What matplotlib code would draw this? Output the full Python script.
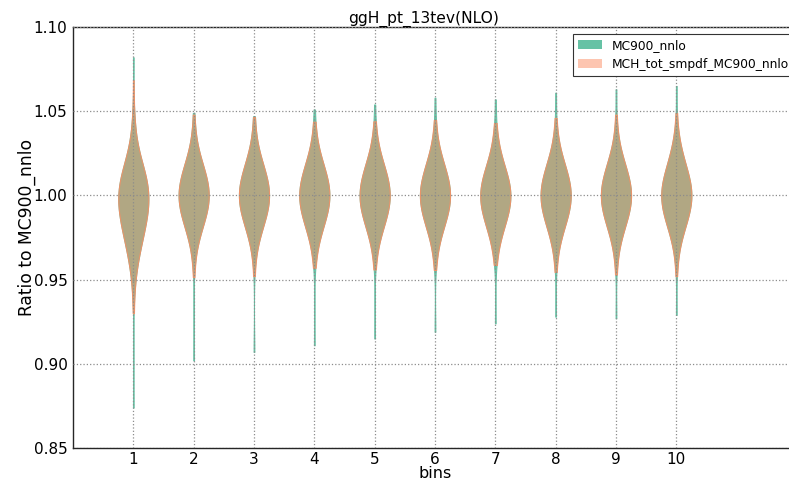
import numpy as np
import matplotlib
matplotlib.use('Agg')
import matplotlib.pyplot as plt
import matplotlib.patches as mpatches

# ratio grid (bin centres) and replica counts per bin
grid = [0.93, 0.94, 0.95, 0.96, 0.97, 0.98, 0.99, 1.00, 1.01, 1.02, 1.03, 1.04, 1.05, 1.06]
bins = [1, 2, 3, 4, 5, 6, 7, 8, 9, 10]

mc900_counts = [
    [0, 1, 2, 5, 9, 14, 18, 20, 17, 10, 4, 2, 1, 0],
    [0, 0, 0, 1, 3, 9, 16, 20, 16, 9, 3, 1, 0, 0],
    [0, 0, 0, 1, 3, 9, 16, 20, 16, 9, 3, 1, 0, 0],
    [0, 0, 0, 1, 3, 9, 16, 20, 16, 9, 3, 1, 0, 0],
    [0, 0, 0, 1, 3, 9, 16, 20, 16, 9, 3, 1, 0, 0],
    [0, 0, 0, 1, 3, 9, 16, 20, 16, 9, 3, 1, 0, 0],
    [0, 0, 0, 1, 3, 9, 16, 20, 16, 8, 3, 1, 0, 0],
    [0, 0, 0, 1, 3, 9, 16, 20, 16, 9, 3, 1, 0, 0],
    [0, 0, 0, 1, 3, 9, 16, 20, 16, 9, 3, 1, 0, 0],
    [0, 0, 0, 1, 3, 9, 16, 20, 16, 9, 4, 1, 0, 0],
]
mc900_lo = [0.874, 0.902, 0.907, 0.911, 0.915, 0.919, 0.924, 0.928, 0.927, 0.929]
mc900_hi = [1.082, 1.049, 1.047, 1.051, 1.054, 1.058, 1.057, 1.061, 1.063, 1.065]

smpdf_counts = [
    [0, 1, 2, 5, 9, 14, 18, 20, 17, 10, 4, 2, 1, 0],
    [0, 0, 0, 1, 3, 9, 16, 20, 16, 9, 3, 1, 0, 0],
    [0, 0, 0, 1, 3, 9, 16, 20, 16, 9, 3, 1, 0, 0],
    [0, 0, 0, 1, 3, 9, 16, 20, 16, 9, 3, 1, 0, 0],
    [0, 0, 0, 1, 3, 9, 16, 20, 16, 9, 3, 1, 0, 0],
    [0, 0, 0, 1, 3, 9, 16, 20, 16, 9, 3, 1, 0, 0],
    [0, 0, 0, 1, 3, 9, 16, 20, 16, 8, 3, 1, 0, 0],
    [0, 0, 0, 1, 3, 9, 16, 20, 16, 9, 3, 1, 0, 0],
    [0, 0, 0, 1, 3, 9, 16, 20, 16, 9, 3, 1, 0, 0],
    [0, 0, 0, 1, 3, 9, 16, 20, 16, 9, 4, 1, 0, 0],
]
smpdf_lo = [0.930, 0.9515, 0.952, 0.957, 0.956, 0.9557, 0.9587, 0.9545, 0.953, 0.952]
smpdf_hi = [1.0685, 1.048, 1.0465, 1.0438, 1.044, 1.0448, 1.043, 1.046, 1.048, 1.049]

green = '#66c2a5'
orange = '#fc8d62'


def replicas(counts, lo, hi):
    out = []
    for c, l, h in zip(counts, lo, hi):
        vals = np.repeat(grid, c)
        out.append(np.concatenate([[l], vals, [h]]))
    return out


def bw(kde):
    # fixed kernel width in ratio units
    return 0.010 / np.std(kde.dataset, ddof=1)


fig = plt.figure(figsize=(7.89, 4.83), dpi=100)
ax = fig.add_axes([0.0925, 0.0725, 0.9176, 0.8716])

for data, col, fa, ea in [(replicas(mc900_counts, mc900_lo, mc900_hi), green, 1.0, 1.0),
                          (replicas(smpdf_counts, smpdf_lo, smpdf_hi), orange, 0.5, 0.85)]:
    parts = ax.violinplot(data, positions=bins, widths=0.5, showextrema=False,
                          bw_method=bw, points=400)
    for b in parts['bodies']:
        b.set_alpha(None)
        b.set_facecolor(matplotlib.colors.to_rgba(col, fa))
        b.set_edgecolor(matplotlib.colors.to_rgba(col, ea))
        b.set_linewidth(0.75)

ax.set_xlim(0, 12)
ax.set_ylim(0.85, 1.10)
ax.set_xticks(bins)
ax.set_yticks([0.85, 0.90, 0.95, 1.00, 1.05, 1.10])
ax.set_yticklabels(['0.85', '0.90', '0.95', '1.00', '1.05', '1.10'])
ax.tick_params(length=0, labelsize=11)
ax.tick_params(axis='x', pad=3)
ax.tick_params(axis='y', pad=4)
ax.grid(True, color='0.55', linestyle=':', linewidth=0.9)
ax.set_axisbelow(False)
for s in ax.spines.values():
    s.set_color('0.15')
    s.set_linewidth(1.0)

ax.set_title('ggH_pt_13tev(NLO)', fontsize=11.2, pad=3, x=0.484)
ax.set_xlabel('bins', fontsize=11.5, labelpad=-1)
ax.set_ylabel('Ratio to MC900_nnlo', fontsize=12.3)
ax.yaxis.set_label_coords(-0.051, 0.524)

handles = [mpatches.Patch(facecolor=green, edgecolor='none', label='MC900_nnlo'),
           mpatches.Patch(facecolor=orange, alpha=0.5, edgecolor='none',
                          label='MCH_tot_smpdf_MC900_nnlo')]
leg = ax.legend(handles=handles, loc='upper left', bbox_to_anchor=(0.6906, 0.984),
                borderaxespad=0, fontsize=8.8, fancybox=False,
                framealpha=1, edgecolor='0.2')
leg.get_frame().set_linewidth(0.8)

fig.savefig('out.png', dpi=100)
